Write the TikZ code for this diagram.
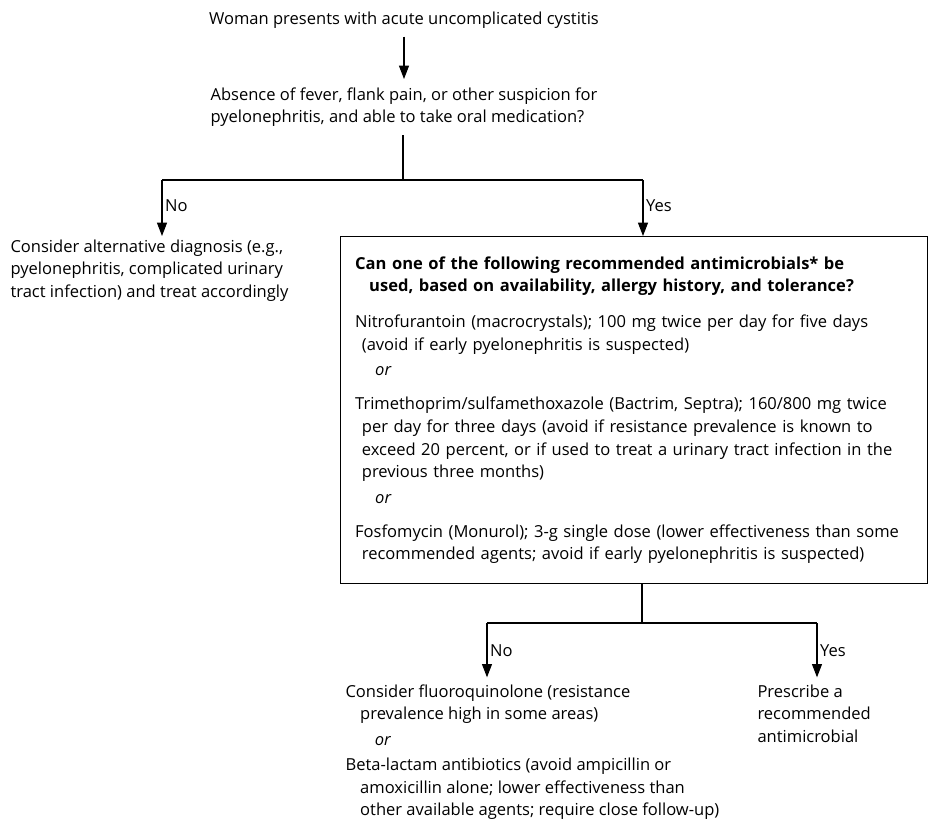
\documentclass[tikz,border=0pt]{standalone}
\usepackage{fontspec}
\setmainfont{Open Sans}
\usetikzlibrary{arrows.meta}
\begin{document}
\begin{tikzpicture}[x=0.75pt,y=-0.75pt,line width=0.8pt,
  >={Triangle[length=10pt,width=7.5pt]},
  txt/.style={inner sep=0pt,align=left,font=\fontsize{12.4}{17}\selectfont},
  lab/.style={inner sep=2pt,font=\fontsize{12.4}{17}\selectfont}]
\useasboundingbox (0,0) rectangle (932,830);
% question on the top
\node[txt,anchor=north](start) at (404,11) {Woman presents with acute uncomplicated cystitis};
\node[txt,anchor=north](q1) at (404,87) {Absence of fever, flank pain, or other suspicion for\\pyelonephritis, and able to take oral medication?};
\draw[->,shorten <=6pt,shorten >=6pt] (start.south) -- (q1.north);
\coordinate (split1) at (403,180);
\coordinate (noA) at (162,180);
\coordinate (yesA) at (643,180);
\draw (split1 |- q1.south) ++(0,8) -- (split1);
\draw (noA) -- (yesA);
% left branch
\node[txt,anchor=north west](alt) at (10,239) {Consider alternative diagnosis (e.g.,\\pyelonephritis, complicated urinary\\tract infection) and treat accordingly};
\draw[->] (noA) -- node[lab,right,pos=.45]{No} (noA |- 0,236);
% the box
\node[draw,anchor=north west,inner xsep=11pt,inner ysep=15pt,text width=418pt,align=left,
  font=\fontsize{12.4}{17}\selectfont](rec) at (340,236) {%
{\bfseries Can one of the following recommended antimicrobials* be\\
\hspace*{10.5pt}used, based on availability, allergy history, and tolerance?}\\[10pt]
Nitrofurantoin (macrocrystals); 100 mg twice per day for five days\\
\hspace*{5pt}(avoid if early pyelonephritis is suspected)\\[2pt]
\hspace*{15pt}\textit{or}\\[8.5pt]
Trimethoprim/sulfamethoxazole (Bactrim, Septra); 160/800 mg twice\\
\hspace*{5pt}per day for three days (avoid if resistance prevalence is known to\\
\hspace*{5pt}exceed 20 percent, or if used to treat a urinary tract infection in the\\
\hspace*{5pt}previous three months)\\[2pt]
\hspace*{15pt}\textit{or}\\[8.5pt]
Fosfomycin (Monurol); 3-g single dose (lower effectiveness than some\\
\hspace*{5pt}recommended agents; avoid if early pyelonephritis is suspected)};
\draw[->] (yesA) -- node[lab,right,pos=.45]{Yes} (yesA |- rec.north);
% second split
\coordinate (split2) at (642,623);
\coordinate (noB) at (487,623);
\coordinate (yesB) at (817,623);
\draw (rec.south -| split2) -- (split2);
\draw (noB) -- (yesB);
\node[txt,anchor=north west](fq) at (345,684) {Consider fluoroquinolone (resistance\\
\hspace*{11pt}prevalence high in some areas)\\[2pt]
\hspace*{22pt}\textit{or}\\[2pt]
Beta-lactam antibiotics (avoid ampicillin or\\
\hspace*{11pt}amoxicillin alone; lower effectiveness than\\
\hspace*{11pt}other available agents; require close follow-up)};
\node[txt,anchor=north west](pres) at (757,684) {Prescribe a\\recommended\\antimicrobial};
\draw[->,shorten >=5pt] (noB) -- node[lab,right,pos=.46]{No} (noB |- fq.north);
\draw[->,shorten >=5pt] (yesB) -- node[lab,right,pos=.46]{Yes} (yesB |- pres.north);
\end{tikzpicture}
\end{document}
